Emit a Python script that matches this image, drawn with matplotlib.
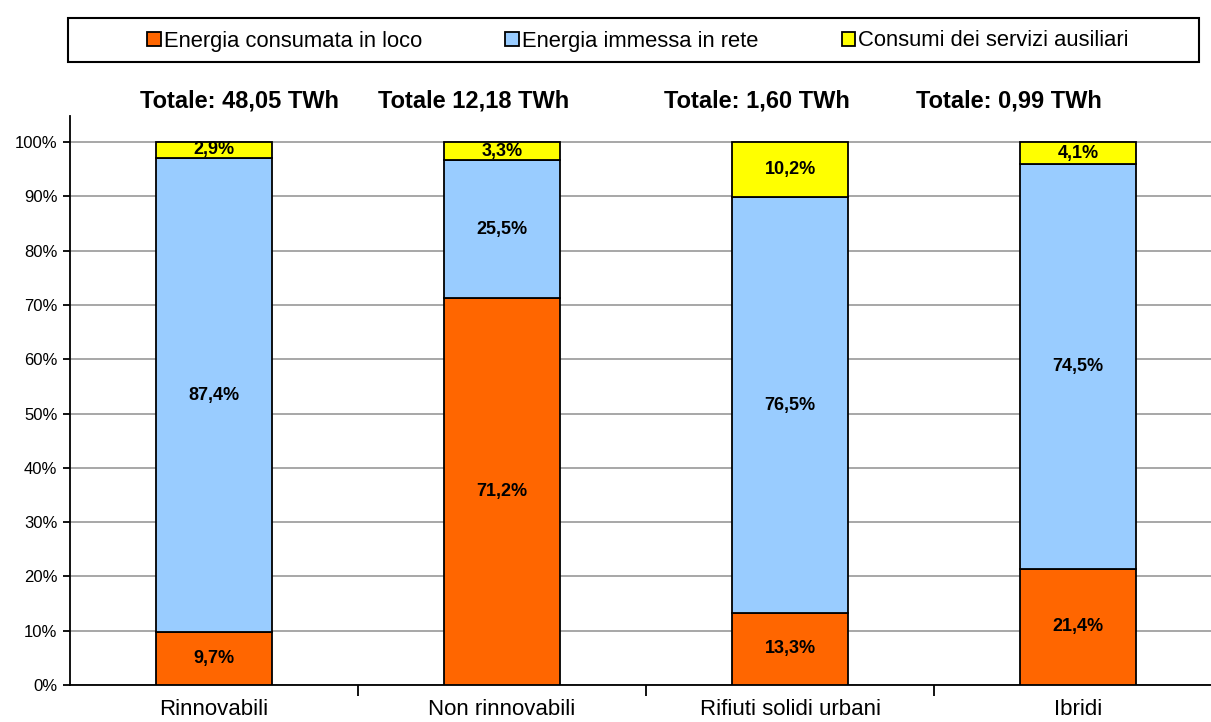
import matplotlib.pyplot as plt
from matplotlib.patches import Rectangle
from matplotlib.ticker import FixedLocator

plt.rcParams['font.family'] = ['Liberation Sans', 'DejaVu Sans']

categorie = ['Rinnovabili', 'Non rinnovabili', 'Rifiuti solidi urbani', 'Ibridi']
totali = ['Totale: 48,05 TWh', 'Totale 12,18 TWh', 'Totale: 1,60 TWh', 'Totale: 0,99 TWh']
consumata = [9.7, 71.2, 13.3, 21.4]
immessa = [87.4, 25.5, 76.5, 74.5]
ausiliari = [2.9, 3.3, 10.2, 4.1]
nomi_serie = ['Energia consumata in loco', 'Energia immessa in rete', 'Consumi dei servizi ausiliari']
colori = ['#FF6600', '#99CCFF', '#FFFF00']

fig = plt.figure(figsize=(12.11, 7.22), dpi=100)
ax = fig.add_axes([70/1211, 1-685/722, 1152/1211, (685-116)/722])

x = list(range(len(categorie)))
base = [0]*len(categorie)
for vals, nome, col in zip([consumata, immessa, ausiliari], nomi_serie, colori):
    ax.bar(x, vals, bottom=base, width=0.4, color=col, edgecolor='black', linewidth=1.3, label=nome, zorder=3)
    for xi, b, v in zip(x, base, vals):
        ax.text(xi, b + v/2, f'{v:.1f}%'.replace('.', ','), ha='center', va='center',
                fontsize=13, fontweight='bold', zorder=4)
    base = [b + v for b, v in zip(base, vals)]

# caselle di testo dei totali, spostate come nell'originale
pos_totali = [0.09, 0.90, 1.885, 2.76]
for xt, t in zip(pos_totali, totali):
    ax.text(xt, 107.6, t, ha='center', va='center', fontsize=17, fontweight='bold')

ax.set_xlim(-0.5, 3.5)
ax.set_ylim(0, 104.8)
ax.set_yticks(range(0, 101, 10))
ax.set_yticklabels([f'{v}%' for v in range(0, 101, 10)], fontsize=12)
ax.set_xticks(x)
ax.set_xticklabels(categorie, fontsize=16)
ax.tick_params(axis='x', which='major', length=0, pad=10)
ax.xaxis.set_minor_locator(FixedLocator([0.5, 1.5, 2.5]))
ax.tick_params(axis='x', which='minor', length=8, width=1.3, direction='out')
ax.tick_params(axis='y', length=5, width=1.3, pad=4)
ax.yaxis.grid(True, color='#a0a0a0', linewidth=1.3, zorder=0)
ax.set_axisbelow(True)
for s in ['top', 'right']:
    ax.spines[s].set_visible(False)
for s in ['left', 'bottom']:
    ax.spines[s].set_linewidth(1.3)

fig.patches.append(Rectangle((68/1211, 1-62/722), (1199-68)/1211, 44/722, transform=fig.transFigure,
                             fill=False, edgecolor='black', linewidth=1.5))
fig.legend(loc='center', bbox_to_anchor=(638/1211, 1-41/722), ncol=3, frameon=False,
           fontsize=15.8, handlelength=0.6, handleheight=0.6, handletextpad=0.15, columnspacing=3.8)

fig.savefig('out.png', dpi=100)
